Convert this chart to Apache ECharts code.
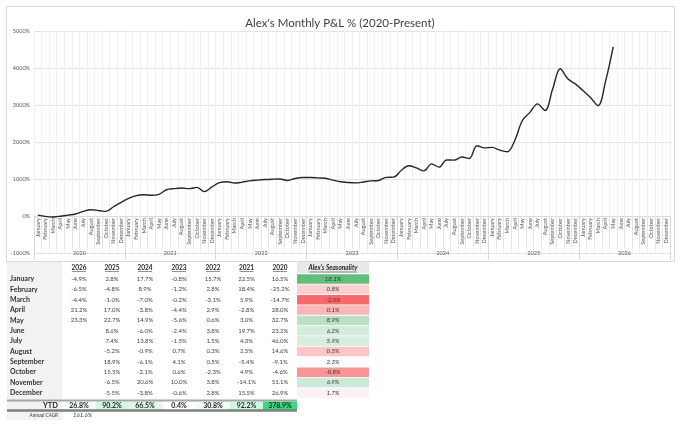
<!DOCTYPE html>
<html>
<head>
<meta charset="utf-8">
<script src="https://cdn.jsdelivr.net/npm/echarts@6/dist/echarts.min.js"></script>
<style>
html,body{margin:0;padding:0;background:#fff;}
#c{width:680px;height:431px;}
</style>
</head>
<body>
<div id="c"></div>
<script>
// ---------- data ----------
const months = ['January','February','March','April','May','June','July','August','September','October','November','December'];
const years = ['2020','2021','2022','2023','2024','2025','2026'];
// cumulative P&L % (Jan 2020 .. May 2026)
const cumulative = [25,-10,-25,-5,25,55,125,170,150,125,250,370,
  475,550,575,560,585,710,740,755,740,775,660,785,
  900,925,890,915,950,970,985,995,1000,960,1015,1040,
  1040,1030,1020,970,925,905,895,920,950,960,1045,1050,
  1230,1360,1300,1220,1410,1320,1515,1510,1595,1555,1900,1840,
  1855,1780,1735,2040,2580,2800,3030,2850,3430,3980,3710,3570,
  3390,3200,2980,3650,4570];
// monthly table (%)
const tableYears = ['2026','2025','2024','2023','2022','2021','2020'];
const m2026 = [-4.9,-6.5,-4.4,21.2,23.3,null,null,null,null,null,null,null];
const m2025 = [2.8,-4.8,-1.0,17.0,22.7,8.6,7.4,-5.2,18.9,15.5,-6.5,-5.5];
const m2024 = [17.7,8.9,-7.0,-3.8,14.9,-6.0,13.8,-0.9,-6.1,-2.1,20.6,-3.8];
const m2023 = [-0.8,-1.2,-0.2,-4.4,-5.6,-2.4,-1.5,0.7,4.1,0.6,10.0,-0.6];
const m2022 = [15.7,2.8,-3.1,2.9,0.6,3.8,1.5,0.3,0.5,-2.3,3.8,2.8];
const m2021 = [22.5,18.4,5.9,-2.8,3.0,19.7,4.3,2.5,-5.4,4.9,-14.1,15.5];
const m2020 = [16.5,-25.2,-14.7,28.0,32.7,23.2,46.0,14.6,-9.1,-4.6,51.1,26.9];
const seasonality = [18.1,0.8,-2.0,0.1,8.9,6.2,5.9,0.5,2.3,-0.8,6.9,1.7];
const ytd = [26.8,90.2,66.5,0.4,30.8,92.2,378.9];
const annualCAGR = 161.6;

// ---------- helpers ----------
const FONT = 'Lato, "Open Sans", sans-serif';
const tableCols = [m2026,m2025,m2024,m2023,m2022,m2021,m2020];
const colX = [79,112,145,179,213,246.5,280];
const colB = [62,96,128,162,196,230,263,297];
const rowY0 = 279, rowH = 10.35;
const seasX0 = 297, seasX1 = 369, seasCX = 333;

function mix(c1,c2,t){
  t=Math.max(0,Math.min(1,t));
  return 'rgb('+c1.map((v,i)=>Math.round(v+(c2[i]-v)*t)).join(',')+')';
}
const RED=[248,105,107], WHITE=[252,252,255], GREEN=[99,190,123];
const sorted=[...seasonality].sort((a,b)=>a-b);
const med=(sorted[5]+sorted[6])/2, sMin=sorted[0], sMax=sorted[11];
function seasColor(v){
  return v<med ? mix(WHITE,RED,(med-v)/(med-sMin)) : mix(WHITE,GREEN,(v-med)/(sMax-med));
}
const ytdMax=Math.max(...ytd), ytdMin=Math.min(...ytd);
function ytdColor(v){ return mix([255,255,255],[52,222,125],(v-ytdMin)/(ytdMax-ytdMin)); }
function fmt(v){ return v.toFixed(1)+'%'; }

function txt(x,y,text,font,fill,align){
  return {type:'text',x:x,y:y,silent:true,
    style:{text:text,font:font,fill:fill||'#404040',textAlign:align||'center',textVerticalAlign:'middle',align:align||'center',verticalAlign:'middle'}};
}
function rect(x,y,w,h,fill,stroke){
  return {type:'rect',silent:true,shape:{x:x,y:y,width:w,height:h},style:{fill:fill||'none',stroke:stroke||null,lineWidth:1}};
}
function line(x1,y1,x2,y2,stroke,w){
  return {type:'line',silent:true,shape:{x1:x1,y1:y1,x2:x2,y2:y2},style:{stroke:stroke,lineWidth:w}};
}

const g=[];
g.push(rect(6.5,6.5,668,255,null,'#d9d9d9'));
g.push(rect(7,262,55,158,'#f2f2f2'));
g.push(rect(seasX0,262,seasX1-seasX0,11,'#e8e8e8'));
g.push(txt(seasCX,268,"Alex's Seasonality",'italic bold 6.5px '+FONT,'#262626'));
g.push(line(seasCX-24,272,seasCX+24,272,'#262626',0.5));
tableYears.forEach((y,i)=>{
  g.push(txt(colX[i],267.5,y,'bold 6.5px '+FONT,'#262626'));
  g.push(line(colX[i]-7,271.5,colX[i]+7,271.5,'#262626',0.5));
});
months.forEach((m,r)=>{
  const y=rowY0+r*rowH;
  g.push(txt(10,y,m,'bold 7px '+FONT,'#333','left'));
  tableCols.forEach((col,c)=>{
    if(col[r]!==null) g.push(txt(colX[c],y,fmt(col[r]),'6px '+FONT,'#404040'));
  });
  g.push(rect(seasX0,y-rowH/2+0.4,seasX1-seasX0,rowH-0.8,seasColor(seasonality[r])));
  g.push(txt(seasCX,y,fmt(seasonality[r]),'italic 6px '+FONT,'#333'));
});
const ytdY=405.3;
ytd.forEach((v,i)=>{
  g.push(rect(colB[i],401.5,colB[i+1]-colB[i],8.5,ytdColor(v)));
  g.push(txt(colX[i],ytdY,fmt(v),'bold 7px '+FONT,'#262626'));
});
g.push(txt(58,ytdY,'YTD','bold 7.5px '+FONT,'#262626','right'));
g.push(line(7,400.5,297,400.5,'#a6a6a6',2));
g.push(line(7,410.5,297,410.5,'#7f7f7f',2.5));
g.push(txt(58,415.5,'Annual CAGR','italic 5px '+FONT,'#404040','right'));
g.push(txt(73,415.5,fmt(annualCAGR),'italic 6px '+FONT,'#404040','left'));

const monthCats = years.flatMap(()=>months);
const lbl = {fontSize:5.6,color:'#595959',fontFamily:FONT};

const chart = echarts.init(document.getElementById('c'),null,{renderer:'canvas'});
chart.setOption({
  animation:false,
  backgroundColor:'#fff',
  title:{text:"Alex's Monthly P&L % (2020-Present)",left:'center',top:12,
    textStyle:{fontFamily:FONT,fontSize:11.5,fontWeight:'normal',color:'#404040'}},
  grid:[
    {left:34,right:10,top:31,height:222,containLabel:false,outerBoundsMode:'none'},
    {left:34,right:10,top:215,height:1,containLabel:false,outerBoundsMode:'none'},
    {left:34,right:10,top:215,height:1,containLabel:false,outerBoundsMode:'none'}
  ],
  xAxis:[{
    gridIndex:0,type:'category',data:monthCats,boundaryGap:true,
    axisLine:{show:false},axisTick:{show:false},axisLabel:{show:false},
    splitLine:{show:true,interval:0,lineStyle:{color:'#f0f0f0',width:1}}
  },{
    gridIndex:1,type:'category',data:monthCats,boundaryGap:true,position:'bottom',
    axisLine:{show:true,onZero:false,lineStyle:{color:'#d9d9d9',width:1}},
    axisTick:{show:true,interval:0,length:31,lineStyle:{color:'#e3e3e3'}},
    axisLabel:Object.assign({interval:0,rotate:90,margin:2,hideOverlap:false},lbl),
    splitLine:{show:false}
  },{
    gridIndex:2,type:'category',data:years,boundaryGap:true,position:'bottom',
    axisLine:{show:false,onZero:false},
    axisTick:{show:true,interval:0,length:44,lineStyle:{color:'#d9d9d9'}},
    axisLabel:Object.assign({interval:0,margin:34.5,hideOverlap:false},lbl),
    splitLine:{show:false}
  }],
  yAxis:[{gridIndex:0,type:'value',min:-1000,max:5000,interval:1000,
    axisLine:{show:false},axisTick:{show:false},
    axisLabel:{formatter:v=>v+'%',fontSize:5.5,color:'#595959',margin:4,fontFamily:FONT},
    splitLine:{lineStyle:{color:'#e3e3e3',width:1}}},
    {gridIndex:1,type:'value',show:false,min:0,max:1},
    {gridIndex:2,type:'value',show:false,min:0,max:1}],
  series:[{type:'line',data:cumulative,xAxisIndex:0,yAxisIndex:0,smooth:0.35,symbol:'none',
    lineStyle:{color:'#262626',width:1.4}}],
  graphic:g
});
</script>
</body>
</html>
